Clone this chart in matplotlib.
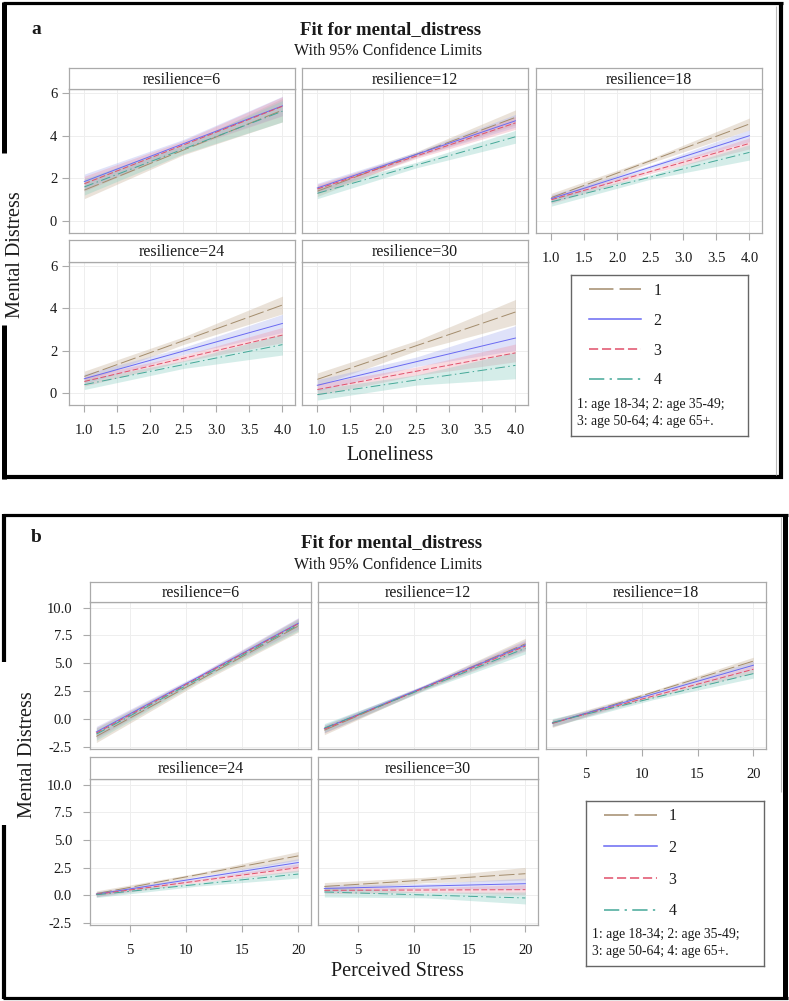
import matplotlib
matplotlib.use('Agg')
import matplotlib.pyplot as plt
from matplotlib.lines import Line2D
import numpy as np

plt.rcParams['font.family'] = ['Liberation Serif', 'DejaVu Serif']

# ---------------- data ----------------
resilience = [6, 12, 18, 24, 30]
groups = ['1', '2', '3', '4']
note_text = '1: age 18-34; 2: age 35-49;\n3: age 50-64; 4: age 65+.'

# panel a: Loneliness
a_x = [1.0, 4.0]
a_fit_start = [[1.45, 1.85, 1.75, 1.60],
               [1.40, 1.55, 1.50, 1.30],
               [1.10, 1.05, 1.00, 0.90],
               [0.79, 0.68, 0.55, 0.40],
               [0.65, 0.37, 0.17, -0.07]]
a_fit_end = [[5.20, 5.40, 5.38, 5.15],
             [4.86, 4.70, 4.60, 3.95],
             [4.55, 4.00, 3.64, 3.22],
             [4.16, 3.29, 2.74, 2.29],
             [3.83, 2.60, 1.90, 1.31]]
a_hw_start = [[0.40, 0.35, 0.35, 0.38],
              [0.25, 0.22, 0.22, 0.25],
              [0.20, 0.18, 0.18, 0.20],
              [0.25, 0.22, 0.22, 0.23],
              [0.30, 0.27, 0.27, 0.26]]
a_hw_mid = [[0.22, 0.20, 0.20, 0.22],
            [0.12, 0.11, 0.11, 0.13],
            [0.10, 0.09, 0.09, 0.10],
            [0.18, 0.17, 0.15, 0.18],
            [0.24, 0.22, 0.20, 0.24]]
a_hw_end = [[0.55, 0.45, 0.45, 0.50],
            [0.35, 0.30, 0.30, 0.30],
            [0.28, 0.28, 0.26, 0.36],
            [0.42, 0.43, 0.36, 0.49],
            [0.59, 0.58, 0.42, 0.63]]
a_yticks = [0, 2, 4, 6]
a_xticks = [1.0, 1.5, 2.0, 2.5, 3.0, 3.5, 4.0]

# panel b: Perceived Stress
b_x = [2.0, 20.0]
b_fit_start = [[-1.55, -1.15, -1.25, -1.35],
               [-1.00, -0.85, -0.90, -0.80],
               [-0.40, -0.35, -0.35, -0.30],
               [0.15, 0.10, 0.08, 0.05],
               [0.80, 0.62, 0.45, 0.30]]
b_fit_end = [[8.35, 8.60, 8.55, 8.45],
             [6.75, 6.65, 6.55, 6.35],
             [5.20, 4.83, 4.47, 4.08],
             [3.56, 2.96, 2.50, 1.92],
             [1.95, 1.05, 0.51, -0.24]]
b_hw_start = [[0.55, 0.50, 0.50, 0.55],
              [0.40, 0.35, 0.35, 0.40],
              [0.35, 0.30, 0.30, 0.35],
              [0.25, 0.22, 0.22, 0.25],
              [0.35, 0.30, 0.30, 0.45]]
b_hw_mid = [[0.25, 0.22, 0.22, 0.25],
            [0.20, 0.18, 0.18, 0.20],
            [0.15, 0.14, 0.14, 0.15],
            [0.15, 0.14, 0.14, 0.16],
            [0.25, 0.22, 0.22, 0.25]]
b_hw_end = [[0.55, 0.50, 0.50, 0.55],
            [0.50, 0.45, 0.45, 0.50],
            [0.35, 0.35, 0.35, 0.40],
            [0.39, 0.35, 0.35, 0.36],
            [0.57, 0.50, 0.45, 0.54]]
b_yticks = [-2.5, 0.0, 2.5, 5.0, 7.5, 10.0]
b_xticks = [5, 10, 15, 20]

# ---------------- style ----------------
line_colors = ['#A38C6C', '#6A6AF2', '#E0506A', '#45A898']
fill_colors = ['#C4AE92', '#A4ACEE', '#EE96A8', '#88CEC2']
dashes = [(16, 4), None, (6, 2.5), (10, 3.5, 1.5, 3.5)]
frame_col = '#AAAAAA'
grid_col = '#EEEEEE'
txt_col = '#1A1A1A'

W, H = 789, 1001
fig = plt.figure(figsize=(W / 100, H / 100), dpi=100)


def rect(x0, y0, x1, y1):
    return [x0 / W, 1 - y1 / H, (x1 - x0) / W, (y1 - y0) / H]


def fline(xs, ys, lw, color='black'):
    fig.add_artist(Line2D([x / W for x in xs], [1 - y / H for y in ys],
                          lw=lw, color=color, solid_capstyle='butt'))


def ftext(x, y, s, **kw):
    fig.text(x / W, 1 - y / H, s, ha='center', va='center', color=txt_col, **kw)


def style_line(ln, g):
    if dashes[g] is not None:
        ln.set_dashes(dashes[g])


def panel(xs, fs, fe, hs, hm, he, col_x, row_y, strip_y, xlim, ylim,
          yticks, ytl, xticks, xtl, ypad, xpad):
    for k, r in enumerate(resilience):
        row, col = divmod(k, 3)
        x0, x1 = col_x[col]
        y0, y1 = row_y[row]
        ax = fig.add_axes(rect(x0, y0, x1, y1))
        ax.set_xlim(*xlim)
        ax.set_ylim(*ylim)
        ax.set_xticks(xticks)
        ax.set_yticks(yticks)
        ax.grid(True, color=grid_col, lw=0.7)
        ax.set_axisbelow(True)
        for sp in ax.spines.values():
            sp.set_color(frame_col)
            sp.set_linewidth(0.9)
        show_x = (row == 1) or (col == 2)
        show_y = (col == 0)
        ax.tick_params(axis='x', length=5 if show_x else 0, color=frame_col,
                       labelbottom=show_x, labelsize=10.5, pad=xpad,
                       labelcolor=txt_col, width=0.8)
        ax.tick_params(axis='y', length=5 if show_y else 0, color=frame_col,
                       labelleft=show_y, labelsize=10.5, pad=ypad,
                       labelcolor=txt_col, width=0.8)
        ax.set_xticklabels(xtl)
        ax.set_yticklabels(ytl)
        xm = (xs[0] + xs[1]) / 2
        for g in range(4):
            fit3 = np.array([fs[k][g], (fs[k][g] + fe[k][g]) / 2, fe[k][g]])
            hw3 = np.array([hs[k][g], hm[k][g], he[k][g]])
            ax.fill_between([xs[0], xm, xs[1]], fit3 - hw3, fit3 + hw3,
                            color=fill_colors[g], alpha=0.35, lw=0)
        for g in range(4):
            ln, = ax.plot(xs, [fs[k][g], fe[k][g]], color=line_colors[g], lw=0.7)
            style_line(ln, g)
        # strip
        s0, s1 = strip_y[row]
        sax = fig.add_axes(rect(x0, s0, x1, s1))
        sax.set_xticks([])
        sax.set_yticks([])
        for sp in sax.spines.values():
            sp.set_color(frame_col)
            sp.set_linewidth(0.9)
        sax.text(0.5, 0.45, 'resilience=%d' % r, ha='center', va='center',
                 fontsize=11.5, color=txt_col, transform=sax.transAxes)


def legend_box(x0, y0, x1, y1, anchor_y, note_y, spacing):
    lax = fig.add_axes(rect(x0, y0, x1, y1))
    lax.set_xticks([])
    lax.set_yticks([])
    for sp in lax.spines.values():
        sp.set_color('#666666')
        sp.set_linewidth(1.0)
    handles = []
    for g in range(4):
        h = Line2D([], [], color=line_colors[g], lw=1.1)
        style_line(h, g)
        handles.append(h)
    lax.legend(handles, groups, loc='upper left', bbox_to_anchor=(0.1, anchor_y),
               frameon=False, fontsize=11.5, handlelength=3.3,
               handletextpad=0.75, labelspacing=spacing, borderpad=0,
               borderaxespad=0, labelcolor=txt_col)
    lax.text(0.035, note_y, note_text, transform=lax.transAxes, fontsize=9.8,
             ha='left', va='center', color=txt_col, linespacing=1.4)


# ---------------- panel a ----------------
panel(a_x, a_fit_start, a_fit_end, a_hw_start, a_hw_mid, a_hw_end,
      col_x=[(69, 295), (302, 528), (536, 762)],
      row_y=[(89, 233), (262, 405)],
      strip_y=[(68, 89), (240, 262)],
      xlim=(0.768, 4.19), ylim=(-0.56, 6.19),
      yticks=a_yticks, ytl=[str(v) for v in a_yticks],
      xticks=a_xticks, xtl=['%.1f' % v for v in a_xticks],
      ypad=3.5, xpad=8.5)
legend_box(571, 275, 748, 436, 0.95, 0.14, 0.86)
ftext(36, 29, 'a', fontsize=14, fontweight='bold')
ftext(391, 30, 'Fit for mental_distress', fontsize=13.5, fontweight='bold')
ftext(388, 51, 'With 95% Confidence Limits', fontsize=11.5)
ftext(390, 456, 'Loneliness', fontsize=14.5)
ftext(16, 255, 'Mental Distress', fontsize=14.5, rotation=90)

# ---------------- panel b ----------------
panel(b_x, b_fit_start, b_fit_end, b_hw_start, b_hw_mid, b_hw_end,
      col_x=[(90, 311), (318, 538), (546, 766)],
      row_y=[(602, 749), (779, 925)],
      strip_y=[(582, 602), (757, 779)],
      xlim=(1.435, 21.13), ylim=(-2.68, 10.5),
      yticks=b_yticks, ytl=['%.1f' % v for v in b_yticks],
      xticks=b_xticks, xtl=[str(v) for v in b_xticks],
      ypad=8, xpad=8.5)
legend_box(586, 801, 764, 966, 0.955, 0.142, 0.98)
ftext(36, 537, 'b', fontsize=14, fontweight='bold')
ftext(392, 543, 'Fit for mental_distress', fontsize=13.5, fontweight='bold')
ftext(388, 565, 'With 95% Confidence Limits', fontsize=11.5)
ftext(397, 972, 'Perceived Stress', fontsize=14.5)
ftext(28, 755, 'Mental Distress', fontsize=14.5, rotation=90)

# ---------------- outer frames ----------------
# panel a
fline([3, 782.5], [3.3, 3.3], 2.3)
fline([780.5, 780.5], [2, 479], 3.0)
fline([3, 782.5], [477, 477], 3.0)
fline([4.2, 4.2], [2, 153], 3.6)
fline([4.2, 4.2], [325, 479], 3.6)
fline([775.5, 775.5], [6, 475], 0.8, '#BBBBBB')
# panel b
fline([3, 788], [515, 515], 2.3)
fline([785.2, 785.2], [514, 999], 3.6)
fline([3, 788], [997.5, 997.5], 2.3)
fline([4.3, 4.3], [514, 662], 3.0)
fline([4.3, 4.3], [825, 999], 3.0)
fline([780.8, 780.8], [517, 792], 0.8, '#BBBBBB')

fig.savefig('out.png', dpi=100)
